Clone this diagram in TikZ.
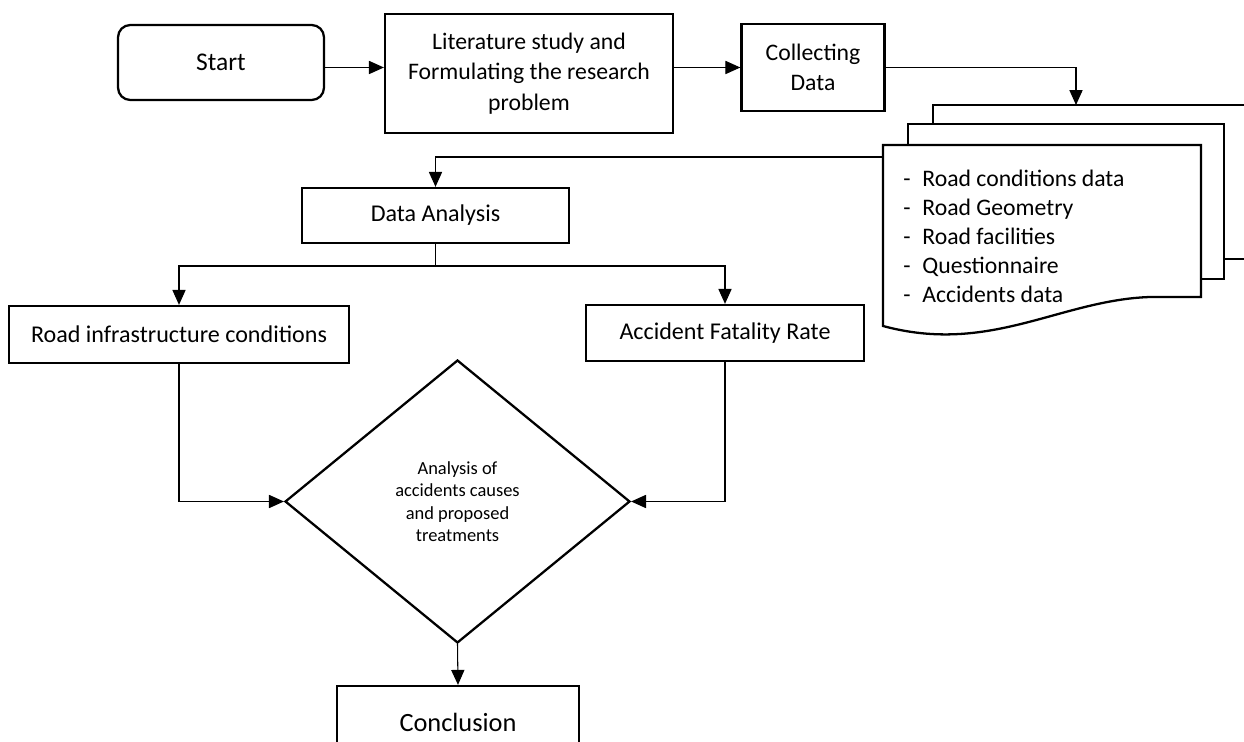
\documentclass[tikz,border=0pt]{standalone}
\usepackage{fontspec}
\setmainfont{Carlito}
\usetikzlibrary{arrows.meta,shapes.geometric}

\begin{document}
\begin{tikzpicture}[x=0.02cm,y=-0.02cm,
    box/.style={draw,line width=1.3pt,inner sep=2pt,align=center,
                font=\fontsize{13.5}{17.4}\selectfont},
    midbox/.style={box,font=\fontsize{13.7}{16}\selectfont},
    conn/.style={line width=0.6pt},
    arr/.style={conn,-{Triangle[length=8.5pt,width=7.5pt]}},
    doc/.style={draw,line width=1.3pt,line join=miter}]
    \clip (0,0) rectangle (1244,742);

    \node[box,rounded corners=7pt,minimum width=4.12cm,minimum height=1.5cm,
          font=\fontsize{14.5}{17}\selectfont](start) at (221,62.5) {Start};
    \node[box,minimum width=5.76cm,minimum height=2.38cm](lit) at (529,73.5)
          {Literature study and\\Formulating the research\\problem};
    \node[box,minimum width=2.86cm,minimum height=1.74cm](collect) at (813,67.5)
          {Collecting\\Data};
    \node[midbox,minimum width=5.34cm,minimum height=1.1cm](da) at (435.5,215.5)
          {Data Analysis};
    \node[midbox,minimum width=6.8cm,minimum height=1.14cm](road) at (179,334.5)
          {Road infrastructure conditions};
    \node[midbox,minimum width=5.56cm,minimum height=1.12cm](acc) at (725,333)
          {Accident Fatality Rate};
    \node[diamond,draw,line width=1.3pt,minimum width=6.9cm,minimum height=5.66cm,
          inner sep=0pt,align=center,font=\fontsize{10.5}{12.8}\selectfont]
          (ana) at (457.5,501.5) {Analysis of\\accidents causes\\and proposed\\treatments};
    \node[box,minimum width=4.84cm,minimum height=1.44cm,
          font=\fontsize{15}{18}\selectfont](concl) at (458,722) {Conclusion};

    % stacked documents
    \draw[doc] (933,124) -- (933,105) -- (1260,105);
    \draw[doc] (1224,259) -- (1260,259);
    \draw[doc] (908,145) -- (908,124) -- (1224,124) -- (1224,279) -- (1201,279);
    \draw[doc] (883,145) -- (1201,145) -- (1201,297) -- (1150,297)
               .. controls (1060,300) and (990,355) .. (883,326) -- cycle;
    \node[anchor=west,inner sep=0pt,align=left,
          font=\fontsize{13.5}{16.5}\selectfont](items) at (903,236.5)
          {\makebox[0.38cm][l]{-}Road conditions data\\
           \makebox[0.38cm][l]{-}Road Geometry\\
           \makebox[0.38cm][l]{-}Road facilities\\
           \makebox[0.38cm][l]{-}Questionnaire\\
           \makebox[0.38cm][l]{-}Accidents data};
    \coordinate(backtop) at (1076,105);
    \coordinate(docin) at (883,157);
    \coordinate(split) at (435.5,266);

    \draw[arr](start.east |- collect.west) -- (lit.west |- collect.west);
    \draw[arr](lit.east |- collect.west) -- (collect.west);
    \draw[arr](collect.east) -| (backtop);
    \draw[arr](docin) -| (da.north);
    \draw[conn](da.south) -- (split);
    \draw[arr](split) -| (road.north);
    \draw[arr](split) -| (acc.north);
    \draw[arr](road.south) |- (ana.west);
    \draw[arr](acc.south) |- (ana.east);
    \draw[arr](ana.south) -- (concl.north);
\end{tikzpicture}
\end{document}
